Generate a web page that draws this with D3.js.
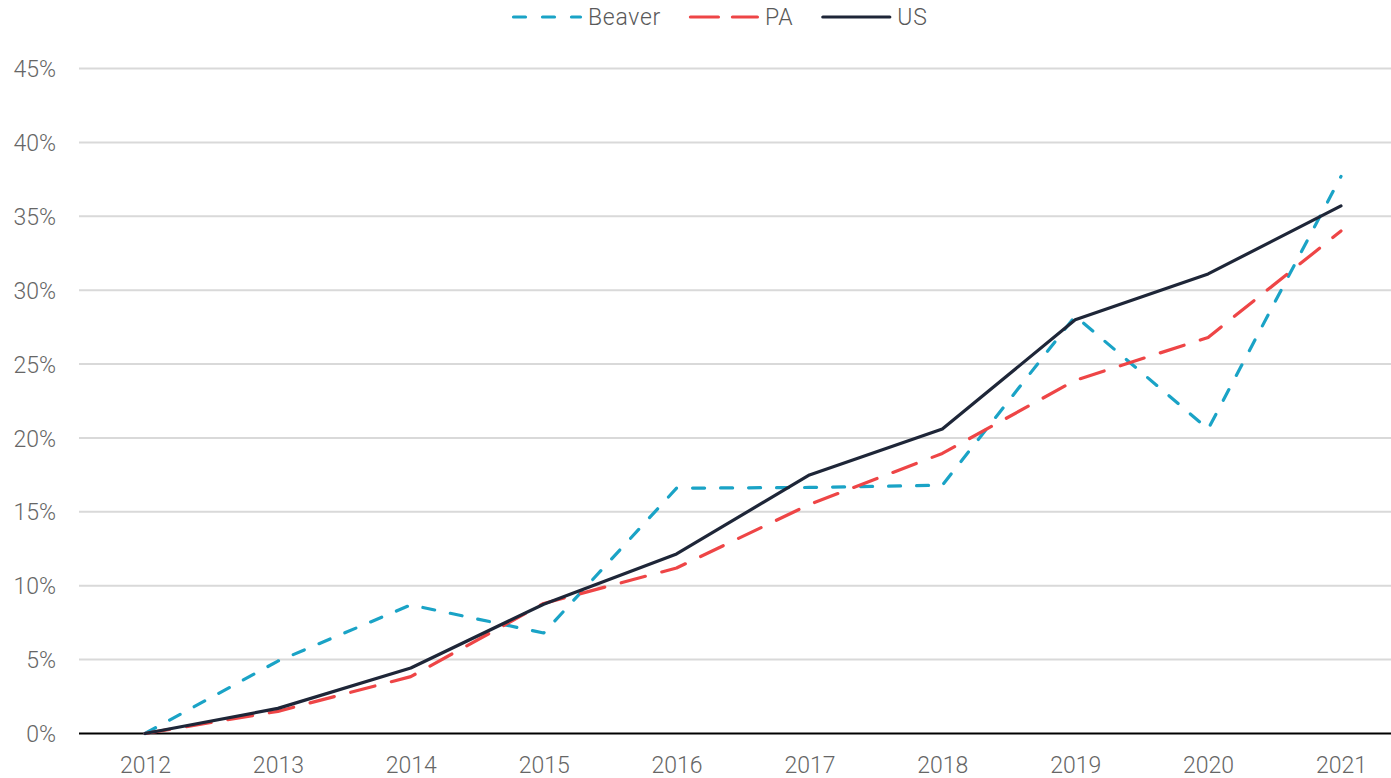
<!DOCTYPE html>
<html>
<head>
<meta charset="utf-8">
<script src="https://cdn.jsdelivr.net/npm/d3@7"></script>
<style>
  html, body { margin: 0; padding: 0; background: #fff; }
  svg { display: block; font-family: Roboto, "Noto Sans", sans-serif; }
</style>
</head>
<body>
<svg id="chart" width="1391" height="778"></svg>
<script>
const years = ["2012","2013","2014","2015","2016","2017","2018","2019","2020","2021"];
const beaver = [0, 4.9, 8.7, 6.8, 16.6, 16.65, 16.8, 28.25, 20.6, 37.7];
const pa     = [0, 1.5, 3.85, 8.8, 11.2, 15.5, 18.95, 23.9, 26.8, 34.0];
const us     = [0, 1.7, 4.43, 8.75, 12.15, 17.5, 20.6, 28.0, 31.1, 35.7];
const yTicks = [0, 5, 10, 15, 20, 25, 30, 35, 40, 45];

const seriesList = [
  { name: "Beaver", values: beaver, color: "#1aa3c6", dash: "12,16", legendDash: "12,17" },
  { name: "PA",     values: pa,     color: "#ee4546", dash: "25,17", legendDash: "28,14" },
  { name: "US",     values: us,     color: "#1e2638", dash: null,    legendDash: null }
];

const svg = d3.select("#chart");
const plotLeft = 79, plotRight = 1391;

const x = d3.scalePoint().domain(years).range([145, 1341]);
const y = d3.scaleLinear().domain([0, 45]).range([733.5, 68.5]);

// gridlines
svg.append("g").selectAll("line").data(yTicks.filter(d => d > 0)).join("line")
  .attr("x1", plotLeft).attr("x2", plotRight)
  .attr("y1", d => y(d)).attr("y2", d => y(d))
  .attr("stroke", "#d9d9d9").attr("stroke-width", 2);

// y axis labels
const yAxis = d3.axisLeft(y).tickValues(yTicks).tickFormat(d => d + "%").tickSize(0).tickPadding(0);
const gy = svg.append("g").attr("transform", "translate(56,0)").call(yAxis);
gy.select(".domain").remove();
gy.selectAll("text").attr("font-size", 23).attr("font-weight", 300).attr("fill", "#666")
  .attr("font-family", "Roboto, sans-serif").attr("dy", "0.35em");

// x axis labels
const xAxis = d3.axisBottom(x).tickSize(0).tickPadding(0);
const gx = svg.append("g").attr("transform", "translate(0,757)").call(xAxis);
gx.select(".domain").remove();
gx.selectAll("text").attr("font-size", 23).attr("font-weight", 300).attr("fill", "#666")
  .attr("font-family", "Roboto, sans-serif").attr("dy", "0.71em");

// baseline axis
svg.append("line").attr("x1", plotLeft).attr("x2", plotRight)
  .attr("y1", y(0)).attr("y2", y(0)).attr("stroke", "#000").attr("stroke-width", 2);

// lines
const line = d3.line().x((d, i) => x(years[i])).y(d => y(d));
seriesList.forEach(s => {
  svg.append("path").datum(s.values)
    .attr("d", line)
    .attr("fill", "none")
    .attr("stroke", s.color)
    .attr("stroke-width", 3.2)
    .attr("stroke-linecap", "round")
    .attr("stroke-linejoin", "round")
    .attr("stroke-dasharray", s.dash);
});

// legend
const lg = svg.append("g");
const legendY = 17;
const sampleLen = 70, textGap = 6, itemGap = 28;
const legendFont = t => t.attr("font-size", 23).attr("font-weight", 300).attr("letter-spacing", 0.7);
const widths = seriesList.map(s => {
  const t = legendFont(lg.append("text")).text(s.name);
  const w = t.node().getComputedTextLength();
  t.remove();
  return w;
});
let cx = 512;
seriesList.forEach((s, i) => {
  lg.append("line").attr("x1", cx + 1.5).attr("x2", cx + sampleLen - 1.5)
    .attr("y1", legendY).attr("y2", legendY)
    .attr("stroke", s.color).attr("stroke-width", 3.2)
    .attr("stroke-linecap", "round")
    .attr("stroke-dasharray", s.legendDash);
  legendFont(lg.append("text")).attr("x", cx + sampleLen + textGap).attr("y", legendY)
    .attr("dy", "0.35em").attr("fill", "#595959").text(s.name);
  cx += sampleLen + textGap + widths[i] + itemGap;
});
</script>
</body>
</html>
